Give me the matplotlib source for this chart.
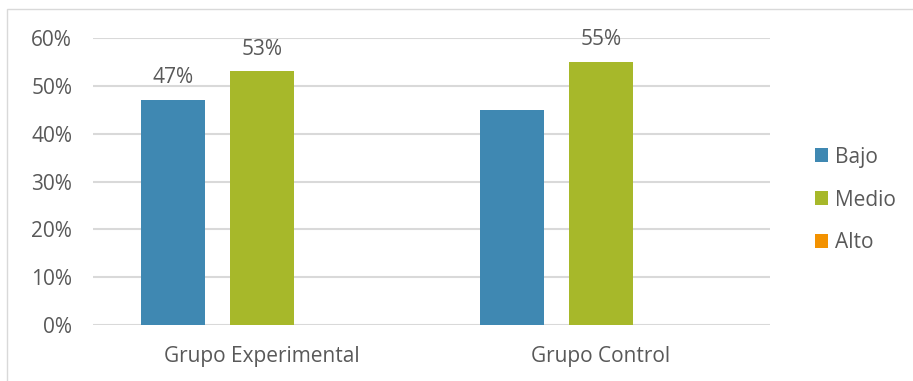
import matplotlib
matplotlib.use("Agg")
import matplotlib.pyplot as plt
from matplotlib.patches import Rectangle
import numpy as np

categories = ["Grupo Experimental", "Grupo Control"]
series_names = ["Bajo", "Medio", "Alto"]
bajo = [0.47, 0.45]
medio = [0.53, 0.55]
alto = [0.0, 0.0]
# which bars carry a value label: (series index, category index)
labelled = [(0, 0), (1, 0), (1, 1)]
y_ticks = [0.0, 0.1, 0.2, 0.3, 0.4, 0.5, 0.6]

colors = ["#3F88B2", "#A7B82A", "#F39200"]
text_color = "#595959"
plt.rcParams["font.family"] = ["Open Sans", "DejaVu Sans"]
fs = 15

fig = plt.figure(figsize=(9.13, 3.81), dpi=100)
ax = fig.add_axes([93 / 913, 1 - 325 / 381, (770 - 93) / 913, (325 - 38) / 381])

x = np.arange(len(categories))
offsets = [-0.263, 0.0, 0.263]
width = 0.189
series = [bajo, medio, alto]
for i, (name, vals) in enumerate(zip(series_names, series)):
    ax.bar(x + offsets[i], vals, width, color=colors[i], label=name, zorder=3)

for si, ci in labelled:
    v = series[si][ci]
    ax.annotate(f"{round(v * 100)}%", (x[ci] + offsets[si], v), xytext=(0, 16),
                textcoords="offset points", ha="center", va="center",
                fontsize=fs, color=text_color)

ax.set_xlim(-0.5, 1.5)
ax.set_ylim(0, 0.6)
ax.set_yticks(y_ticks)
ax.set_yticklabels([f"{round(t * 100)}%" for t in y_ticks])
ax.set_xticks(x)
ax.set_xticklabels(categories)
ax.tick_params(axis="both", length=0, labelsize=fs, colors=text_color)
ax.tick_params(axis="y", pad=15)
ax.tick_params(axis="x", pad=15)
ax.yaxis.grid(True, color="#D9D9D9", linewidth=1.5, zorder=0)
for s in ax.spines.values():
    s.set_visible(False)

leg = fig.legend(loc="center left", bbox_to_anchor=(796 / 913, 1 - 200 / 381), frameon=False,
                 fontsize=fs, handlelength=0.65, handleheight=0.65, handletextpad=0.3,
                 labelspacing=1.05, labelcolor=text_color)

# outer chart frame
fig.add_artist(Rectangle((7 / 913, -0.01), 1.0, 1 - 9 / 381 + 0.01, transform=fig.transFigure,
                         fill=False, edgecolor="#D9D9D9", linewidth=1.0))

fig.savefig("out.png", dpi=100)
